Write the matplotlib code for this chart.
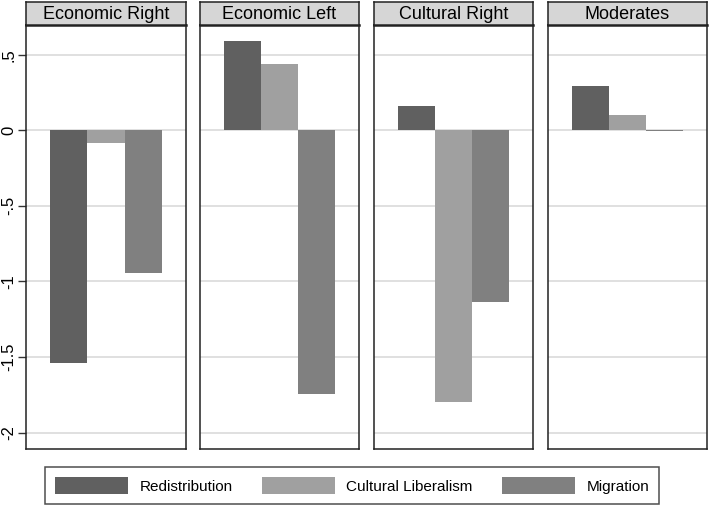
import matplotlib
matplotlib.use("Agg")
import matplotlib.pyplot as plt
from matplotlib.patches import Patch

plt.rcParams['font.family'] = ['Liberation Sans', 'DejaVu Sans']

# data
panels = ["Economic Right", "Economic Left", "Cultural Right", "Moderates"]
series = ["Redistribution", "Cultural Liberalism", "Migration"]
redistribution = [-1.537, 0.589, 0.163, 0.290]
cultural_lib = [-0.086, 0.440, -1.797, 0.099]
migration = [-0.946, -1.746, -1.133, -0.004]
colors = ["#606060", "#a0a0a0", "#808080"]
yticks = [0.5, 0, -0.5, -1, -1.5, -2]
yticklabels = [".5", "0", "-.5", "-1", "-1.5", "-2"]

W, H = 709, 505
fig = plt.figure(figsize=(W / 100, H / 100), dpi=100)

# panel boxes in pixels (left, right)
xs = [(26, 186), (200, 359), (374, 533), (548, 707)]
top, bottom, head_top = 25, 449, 2

vals = [redistribution, cultural_lib, migration]
for i, name in enumerate(panels):
    x0, x1 = xs[i]
    ax = fig.add_axes([x0 / W, 1 - bottom / H, (x1 - x0) / W, (bottom - top) / H])
    for j in range(3):
        ax.bar(j, vals[j][i], width=1.0, color=colors[j], zorder=2)
    ax.set_xlim(-1.14, 3.14)
    ax.set_ylim(-2.108, 0.696)
    for t in yticks:
        ax.axhline(t, color="#e0e0e0", lw=1.4, zorder=1)
    ax.set_xticks([])
    for s in ax.spines.values():
        s.set_color("#222222")
        s.set_linewidth(1.1)
    if i == 0:
        ax.set_yticks(yticks)
        ax.set_yticklabels(yticklabels, rotation=90, va="center", fontsize=12)
        ax.tick_params(axis="y", length=6, width=1, color="#333333", pad=1)
    else:
        ax.set_yticks([])

    # header strip
    hx = fig.add_axes([x0 / W, 1 - top / H, (x1 - x0) / W, (top - head_top) / H])
    hx.set_facecolor("#d6d6d6")
    hx.set_xticks([])
    hx.set_yticks([])
    for s in hx.spines.values():
        s.set_color("#222222")
        s.set_linewidth(1.1)
    hx.spines["bottom"].set_linewidth(1.8)
    hx.text(0.5, 0.47, name, ha="center", va="center", fontsize=13, transform=hx.transAxes)

handles = [Patch(facecolor=c, edgecolor="none") for c in colors]
leg = fig.legend(handles, series, loc="center", ncol=3,
                 bbox_to_anchor=(352 / W, 1 - 485.5 / H),
                 fontsize=11, handlelength=4.8, handleheight=1.3,
                 handletextpad=0.75, columnspacing=1.9,
                 fancybox=False, frameon=True, borderpad=0.65, borderaxespad=0)
leg.get_frame().set_edgecolor("#222222")
leg.get_frame().set_linewidth(1.1)

fig.savefig("out.png", dpi=100)
